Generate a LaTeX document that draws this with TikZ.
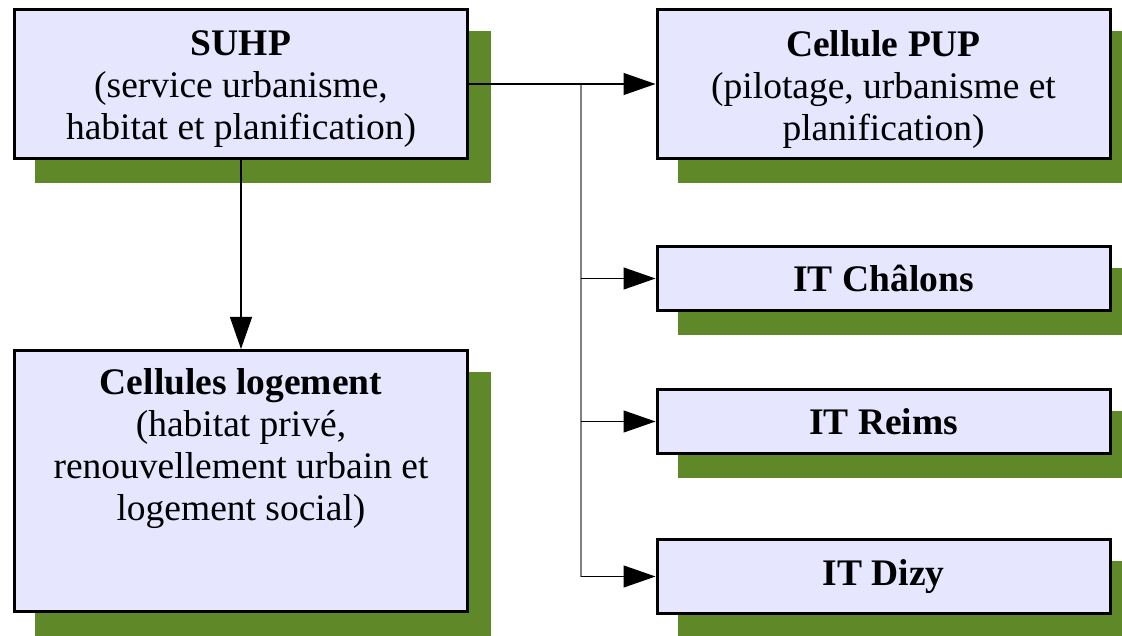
\documentclass[tikz,border=0pt]{standalone}
\usepackage{fontspec}
\setmainfont{Liberation Serif}
\usetikzlibrary{arrows.meta,shadows}
\definecolor{boxfill}{RGB}{230,230,255}
\definecolor{shadowgreen}{RGB}{95,136,40}
\definecolor{trunkgray}{RGB}{128,128,128}
\begin{document}
\begin{tikzpicture}[x=1pt,y=-1pt,
  box/.style={draw=black, line width=3pt, fill=boxfill, align=center,
    font=\fontsize{37.5}{42}\selectfont, inner sep=0pt, minimum width=453pt,
    general shadow={fill=shadowgreen, draw=shadowgreen, line width=3pt,
      shadow xshift=22pt, shadow yshift=-23pt}},
  txt/.style={align=center, font=\fontsize{37.5}{42}\selectfont, inner sep=0pt},
  conn/.style={line width=1.2pt, draw=black, -{Triangle[length=32pt,width=22pt]}},
  trunk/.style={line width=1.5pt, draw=trunkgray}]
\useasboundingbox (0,0) rectangle (1122,636);
\node[box, minimum height=149pt] (suhp) at (241,84) {};
\node[txt] (suhptxt) at ([yshift=-5pt]suhp.center)
  {\textbf{SUHP}\\(service urbanisme,\\habitat et planification)};
\node[box, minimum height=149pt] (pup) at (883.5,84) {};
\node[txt] (puptxt) at ([yshift=-5pt]pup.center)
  {\textbf{Cellule PUP}\\(pilotage, urbanisme et\\planification)};
\node[box, minimum height=64pt] (chalons) at (883.5,278.5) {\textbf{IT Châlons}};
\node[box, minimum height=64pt] (reims) at (883.5,421.5) {\textbf{IT Reims}};
\node[box, minimum height=74pt] (dizy) at (883.5,576.5) {\textbf{IT Dizy}};
\node[box, minimum height=261pt] (log) at (241,481) {};
\node[txt, anchor=north] (logtxt) at ([yshift=-19pt]log.north)
  {\textbf{Cellules logement}\\(habitat privé,\\renouvellement urbain et\\logement social)};
\coordinate (tk) at (581,84);
\draw[trunk] (tk) -- (tk |- dizy.west);
\draw[conn] (suhp.east) -- (pup.west);
\draw[conn] (tk |- chalons.west) -- (chalons.west);
\draw[conn] (tk |- reims.west) -- (reims.west);
\draw[conn] (tk |- dizy.west) -- (dizy.west);
\draw[conn] (suhp.south) -- (log.north);
\end{tikzpicture}
\end{document}
